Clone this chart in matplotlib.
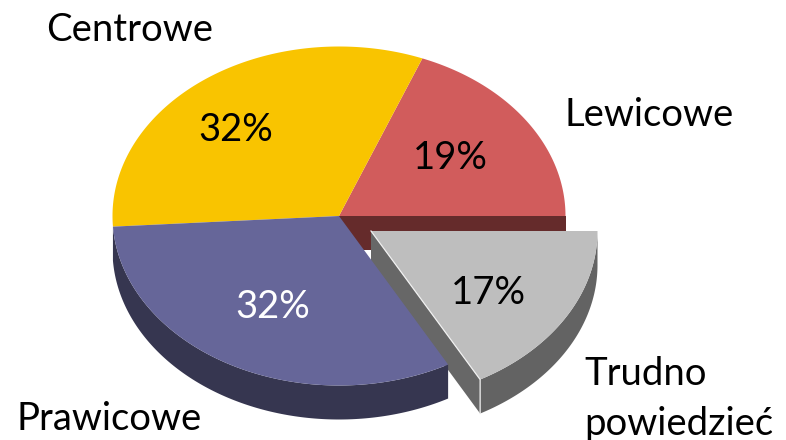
#!/usr/bin/env python
import numpy as np
import matplotlib
matplotlib.use("Agg")
import matplotlib.pyplot as plt

labels = ["Lewicowe", "Centrowe", "Prawicowe", "Trudno\npowiedzieć"]
values = [19, 32, 32, 17]
pct_labels = ["19%", "32%", "32%", "17%"]

plt.rcParams['font.family'] = ['Lato', 'DejaVu Sans']

# pie geometry in pixels of the 786x440 picture
cx, cy = 339, 216
rx, ry = 226.5, 169.5
depth = 34
off_x, off_y = 32, 15
fs = 27.5


def arc(a0, a1, dx=0, dy=0):
    t = np.radians(np.linspace(a0, a1, 200))
    return cx + dx + rx * np.cos(t), cy + dy - ry * np.sin(t)


def wedge(ax, a0, a1, color, dx=0, dy=0):
    x, y = arc(a0, a1, dx, dy)
    ax.fill(np.r_[cx + dx, x], np.r_[cy + dy, y], color=color, lw=0)


def outer_wall(ax, a0, a1, color, dx=0, dy=0):
    x, y = arc(a0, a1, dx, dy)
    ax.fill(np.r_[x, x[::-1]], np.r_[y, y[::-1] + depth], color=color, lw=0)


def cut_wall(ax, angle, color, dx=0, dy=0):
    x, y = arc(angle, angle, dx, dy)
    px = [cx + dx, x[0], x[0], cx + dx]
    py = [cy + dy, y[0], y[0] + depth, cy + dy + depth]
    ax.fill(px, py, color=color, lw=0)


edges = np.r_[0, np.cumsum(values)] * 3.6

fig = plt.figure(figsize=(7.86, 4.40), dpi=100)
ax = fig.add_axes([0, 0, 1, 1])
ax.set_xlim(0, 786)
ax.set_ylim(440, 0)
ax.axis("off")

# back slices first, the pulled out slice goes over them
cut_wall(ax, edges[0], "#652B2B")
wedge(ax, edges[0], edges[1], "#D15C5C")
wedge(ax, edges[1], edges[2], "#F9C400")

cut_wall(ax, edges[3], "#676767", off_x, off_y)
outer_wall(ax, edges[2], edges[3], "#363650")
wedge(ax, edges[2], edges[3], "#666699")

outer_wall(ax, edges[3], edges[4], "#636363", off_x, off_y)
wedge(ax, edges[3], edges[4], "#BEBEBE", off_x, off_y)

# thin light edges on the pulled out slice
ex, ey = arc(edges[3], edges[3], off_x, off_y)
ax.plot([cx + off_x, ex[0], ex[0]], [cy + off_y, ey[0], ey[0] + depth],
        color="#F0F0F0", lw=0.9, solid_joinstyle="miter")

ax.text(450, 158, pct_labels[0], fontsize=fs, color="black", ha="center", va="center")
ax.text(236, 130, pct_labels[1], fontsize=fs, color="black", ha="center", va="center")
ax.text(273, 307, pct_labels[2], fontsize=fs, color="white", ha="center", va="center")
ax.text(488, 293, pct_labels[3], fontsize=fs, color="black", ha="center", va="center")

ax.text(564.5, 115, labels[0], fontsize=fs, ha="left", va="center")
ax.text(46.5, 30, labels[1], fontsize=fs, ha="left", va="center")
ax.text(16.5, 419, labels[2], fontsize=fs, ha="left", va="center")
ax.text(584.5, 399, labels[3], fontsize=fs, ha="left", va="center", linespacing=1.45)

fig.savefig("out.png", dpi=100)
